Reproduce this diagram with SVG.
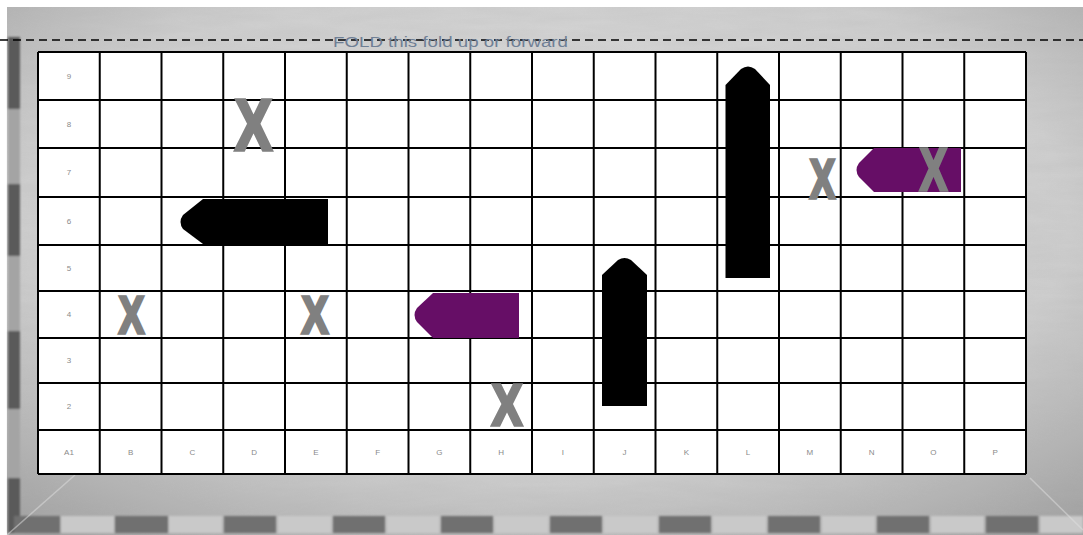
<svg xmlns="http://www.w3.org/2000/svg" width="1083" height="535" viewBox="0 0 1083 535">
<style>
.grid line{stroke:#000;stroke-width:2}
.lbl{font-family:"Liberation Sans",Arial,sans-serif;font-size:8px;fill:#8a8a8a;text-anchor:middle}
.x{font-family:"Liberation Sans",Arial,sans-serif;font-weight:bold;fill:#808080;stroke:#808080;stroke-width:3.5;stroke-linejoin:miter}
.blk{fill:#000}
.pur{fill:#660e66}
.fold{font-family:"Liberation Sans",Arial,sans-serif;font-size:14px;fill:#6f7f95}
</style>
<defs>
<radialGradient id="bg" cx="0.5" cy="0.4" r="0.75">
<stop offset="0" stop-color="#dedede"/>
<stop offset="0.65" stop-color="#cdcdcd"/>
<stop offset="1" stop-color="#a2a2a2"/>
</radialGradient>
<filter id="tex" x="0" y="0" width="1" height="1">
<feTurbulence type="fractalNoise" baseFrequency="0.015 0.1" numOctaves="3" seed="4"/>
<feColorMatrix type="matrix" values="0 0 0 0 0.45  0 0 0 0 0.45  0 0 0 0 0.45  0.4 0 0 0 -0.08"/>
</filter>
<filter id="soft"><feGaussianBlur stdDeviation="1.2"/></filter>
</defs>
<rect width="1083" height="535" fill="#fff"/>
<g id="background">
<rect x="7" y="7" width="1076" height="528" fill="url(#bg)"/>
<rect x="7" y="7" width="1076" height="528" filter="url(#tex)" opacity="0.7"/>
<g filter="url(#soft)">
<g fill="#5a5a5a">
<rect x="8" y="37" width="12" height="72"/>
<rect x="8" y="184" width="12" height="72"/>
<rect x="8" y="331" width="12" height="78"/>
<rect x="8" y="478" width="12" height="55"/>
</g>
<g fill="#a4a4a4">
<rect x="8" y="109" width="12" height="75"/>
<rect x="8" y="256" width="12" height="75"/>
<rect x="8" y="409" width="12" height="69"/>
</g>
<g fill="#707070">
<rect x="14" y="516" width="46" height="17"/>
<rect x="115" y="516" width="53" height="17"/>
<rect x="224" y="516" width="52" height="17"/>
<rect x="333" y="516" width="52" height="17"/>
<rect x="441" y="516" width="52" height="17"/>
<rect x="550" y="516" width="52" height="17"/>
<rect x="659" y="516" width="52" height="17"/>
<rect x="768" y="516" width="52" height="17"/>
<rect x="877" y="516" width="52" height="17"/>
<rect x="986" y="516" width="52" height="17"/>
</g>
<g fill="#c9c9c9">
<rect x="61" y="516" width="53" height="17"/>
<rect x="169" y="516" width="53" height="17"/>
<rect x="278" y="516" width="53" height="17"/>
<rect x="387" y="516" width="52" height="17"/>
<rect x="495" y="516" width="53" height="17"/>
<rect x="604" y="516" width="53" height="17"/>
<rect x="713" y="516" width="53" height="17"/>
<rect x="822" y="516" width="53" height="17"/>
<rect x="931" y="516" width="53" height="17"/>
<rect x="1040" y="516" width="43" height="17"/>
</g>
</g>
<line x1="7" y1="535" x2="75" y2="475" stroke="#e0e0e0" stroke-width="1.5" opacity="0.5"/>
<line x1="1083" y1="530" x2="1030" y2="478" stroke="#e0e0e0" stroke-width="1.5" opacity="0.5"/>
</g>
<g id="fold-line">
<line x1="0" y1="40" x2="1083" y2="40" stroke="#000" stroke-width="1.5" stroke-dasharray="8,5"/>
<text class="fold" x="333" y="47" textLength="235" lengthAdjust="spacingAndGlyphs">FOLD this fold up or forward</text>
</g>
<g id="board">
<rect x="38" y="52" width="988" height="422" fill="#fff"/>
<g class="grid">
<line x1="38" y1="52" x2="1026" y2="52"/>
<line x1="38" y1="100" x2="1026" y2="100"/>
<line x1="38" y1="148" x2="1026" y2="148"/>
<line x1="38" y1="197" x2="1026" y2="197"/>
<line x1="38" y1="245" x2="1026" y2="245"/>
<line x1="38" y1="291" x2="1026" y2="291"/>
<line x1="38" y1="338" x2="1026" y2="338"/>
<line x1="38" y1="383" x2="1026" y2="383"/>
<line x1="38" y1="430" x2="1026" y2="430"/>
<line x1="38" y1="474" x2="1026" y2="474"/>
<line x1="38" y1="52" x2="38" y2="474"/>
<line x1="99.75" y1="52" x2="99.75" y2="474"/>
<line x1="161.5" y1="52" x2="161.5" y2="474"/>
<line x1="223.25" y1="52" x2="223.25" y2="474"/>
<line x1="285" y1="52" x2="285" y2="474"/>
<line x1="346.75" y1="52" x2="346.75" y2="474"/>
<line x1="408.5" y1="52" x2="408.5" y2="474"/>
<line x1="470.25" y1="52" x2="470.25" y2="474"/>
<line x1="532" y1="52" x2="532" y2="474"/>
<line x1="593.75" y1="52" x2="593.75" y2="474"/>
<line x1="655.5" y1="52" x2="655.5" y2="474"/>
<line x1="717.25" y1="52" x2="717.25" y2="474"/>
<line x1="779" y1="52" x2="779" y2="474"/>
<line x1="840.75" y1="52" x2="840.75" y2="474"/>
<line x1="902.5" y1="52" x2="902.5" y2="474"/>
<line x1="964.25" y1="52" x2="964.25" y2="474"/>
<line x1="1026" y1="52" x2="1026" y2="474"/>
</g>
<g id="labels">
<text class="lbl" x="69" y="79">9</text>
<text class="lbl" x="69" y="127">8</text>
<text class="lbl" x="69" y="175">7</text>
<text class="lbl" x="69" y="224">6</text>
<text class="lbl" x="69" y="271">5</text>
<text class="lbl" x="69" y="317">4</text>
<text class="lbl" x="69" y="363">3</text>
<text class="lbl" x="69" y="409">2</text>
<text class="lbl" x="69" y="455">A1</text>
<text class="lbl" x="130.6" y="455">B</text>
<text class="lbl" x="192.4" y="455">C</text>
<text class="lbl" x="254.1" y="455">D</text>
<text class="lbl" x="315.9" y="455">E</text>
<text class="lbl" x="377.6" y="455">F</text>
<text class="lbl" x="439.4" y="455">G</text>
<text class="lbl" x="501.1" y="455">H</text>
<text class="lbl" x="562.9" y="455">I</text>
<text class="lbl" x="624.6" y="455">J</text>
<text class="lbl" x="686.4" y="455">K</text>
<text class="lbl" x="748.1" y="455">L</text>
<text class="lbl" x="809.9" y="455">M</text>
<text class="lbl" x="871.6" y="455">N</text>
<text class="lbl" x="933.4" y="455">O</text>
<text class="lbl" x="995.1" y="455">P</text>
</g>
</g>
<g id="ship-c6" class="blk"><path d="M203,199 H328 V244 H203 L183,229 Q178,222 183,215 Z"/></g>
<g id="ship-g4" class="pur"><path d="M433,293 H519 V338 H433 L417,322 Q412,315 417,308 Z"/></g>
<g id="ship-n7" class="pur"><path d="M874,148 H961 V192 H874 L859,177 Q854,170 859,163 Z"/></g>
<g id="ship-j" class="blk"><path d="M602,275 V406 H647 V275 L631,260 Q624.5,256 618,260 Z"/></g>
<g id="ship-l" class="blk"><path d="M725.5,85 V278 H770 V85 L755,69 Q748,64 741,69 Z"/></g>
<g id="hits">
<text class="x" x="235" y="150" font-size="72" textLength="37" lengthAdjust="spacingAndGlyphs">X</text>
<text class="x" x="119" y="333" font-size="52" textLength="25" lengthAdjust="spacingAndGlyphs">X</text>
<text class="x" x="302" y="333" font-size="52" textLength="26" lengthAdjust="spacingAndGlyphs">X</text>
<text class="x" x="492" y="425" font-size="57" textLength="30" lengthAdjust="spacingAndGlyphs">X</text>
<text class="x" x="810" y="198" font-size="55" textLength="25" lengthAdjust="spacingAndGlyphs">X</text>
<text class="x" x="920" y="190" font-size="59" textLength="27" lengthAdjust="spacingAndGlyphs">X</text>
</g>
</svg>
